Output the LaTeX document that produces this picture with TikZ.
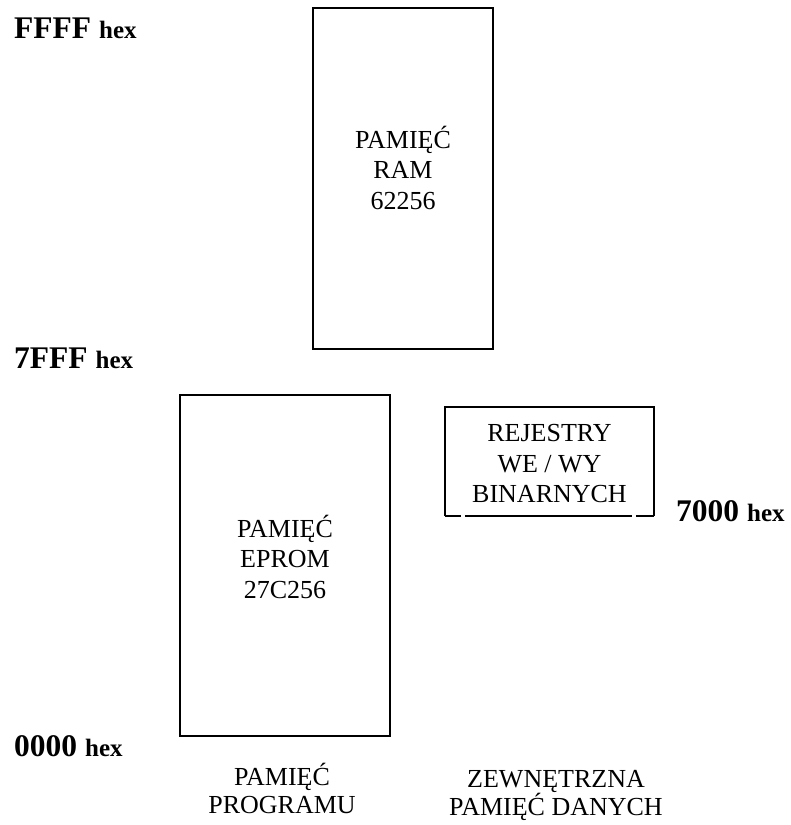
\documentclass[tikz,border=0pt]{standalone}
\usepackage{fontspec}
\setmainfont{Liberation Serif}
\usetikzlibrary{calc}

\newcommand{\addrlabel}[1]{{\fontsize{31.5}{32}\selectfont #1}\hspace{8pt}{\fontsize{25}{25}\selectfont hex}}

\begin{document}
\begin{tikzpicture}[
  x=1pt, y=-1pt,
  boxline/.style={line width=1.6pt, draw=black},
  memblock/.style={
    boxline,
    rectangle,
    inner sep=0pt
  },
  blocktext/.style={
    align=center,
    inner sep=0pt,
    font=\fontsize{26}{30.5}\selectfont
  },
  areatext/.style={
    blocktext,
    font=\fontsize{26}{27.5}\selectfont
  },
  address/.style={
    anchor=base west,
    inner sep=0pt,
    font=\bfseries
  }
]
  \useasboundingbox (0,0) rectangle (791,825);

  % Memory chips, drawn at their address ranges.
  \node[memblock, minimum width=180pt, minimum height=341pt] (ram) at (403,178.5) {};
  \node[memblock, minimum width=210pt, minimum height=341pt] (eprom) at (285,565.5) {};
  \node[blocktext] (ramtext) at (403,167.8) {PAMIĘĆ\\RAM\\62256};
  \node[blocktext] (epromtext) at (285,556.5) {PAMIĘĆ\\EPROM\\27C256};

  % I/O registers: bottom edge broken near the corners.
  \node[rectangle, inner sep=0pt, minimum width=209pt, minimum height=109pt] (reg) at (549.5,461.5) {};
  \draw[boxline] (reg.south west) -- (reg.north west) -- (reg.north east) -- (reg.south east);
  \draw[boxline] (reg.south west) -- ++(16,0) ++(4,0) -- ++(167,0) ++(4,0) -- (reg.south east);
  \node[blocktext] (regtext) at (549.5,464) {REJESTRY\\WE / WY\\BINARNYCH};

  % Address marks.
  \node[address] (ffff) at (14,38) {\addrlabel{FFFF}};
  \node[address] (sevenfff) at (14,368) {\addrlabel{7FFF}};
  \node[address] (seventhousand) at (676,521) {\addrlabel{7000}};
  \node[address] (zero) at (14,756) {\addrlabel{0000}};

  % Area names under the columns.
  \node[areatext] (progmem) at (282,788.5) {PAMIĘĆ\\PROGRAMU};
  \node[areatext] (datamem) at (556,795.5) {ZEWNĘTRZNA\\PAMIĘĆ DANYCH};
\end{tikzpicture}
\end{document}
